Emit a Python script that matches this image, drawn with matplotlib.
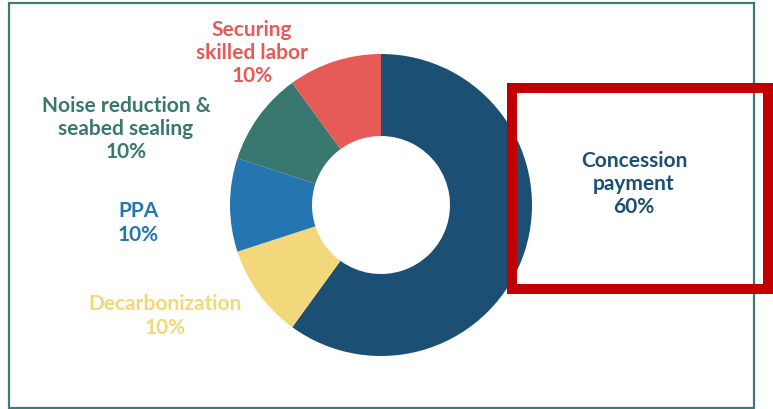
"""Donut chart of cost shares -> out.png."""

import matplotlib
matplotlib.use("Agg")
import matplotlib.pyplot as plt
from matplotlib.patches import Rectangle

W, H = 773, 410

categories = ["Concession\npayment", "Decarbonization", "PPA",
              "Noise reduction &\nseabed sealing", "Securing\nskilled labor"]
shares = [60, 10, 10, 10, 10]
colors = ["#1b4f74", "#f3d77b", "#2575b1", "#38786f", "#e65a58"]
# label anchor points (pixel coords, y from top)
label_pos = [(634, 184), (165, 316), (138, 223), (126, 129), (252, 53)]


def main():
    fig = plt.figure(figsize=(W / 100, H / 100), dpi=100)
    ax = fig.add_axes([0, 0, 1, 1])

    # flipped y axis -> counterclock=True draws clockwise on screen
    ax.pie(shares, colors=colors, startangle=-90, counterclock=True,
           center=(381, 206), radius=151, frame=True,
           wedgeprops=dict(width=82, linewidth=0))
    ax.set_xlim(0, W)
    ax.set_ylim(H, 0)
    ax.set_aspect("equal")
    ax.axis("off")

    for cat, val, col, (x, y) in zip(categories, shares, colors, label_pos):
        ax.text(x, y, f"{cat}\n{val}%", color=col, ha="center", va="center",
                fontsize=15, fontweight="bold", family="Lato", linespacing=1.2)

    ax.add_patch(Rectangle((9, 4), 745, 405, fill=False, ec="#3d7b73", lw=1.6))
    ax.add_patch(Rectangle((512, 89), 256, 201, fill=False, ec="#c00000", lw=7.2))

    fig.savefig("out.png", dpi=100)


if __name__ == "__main__":
    main()
